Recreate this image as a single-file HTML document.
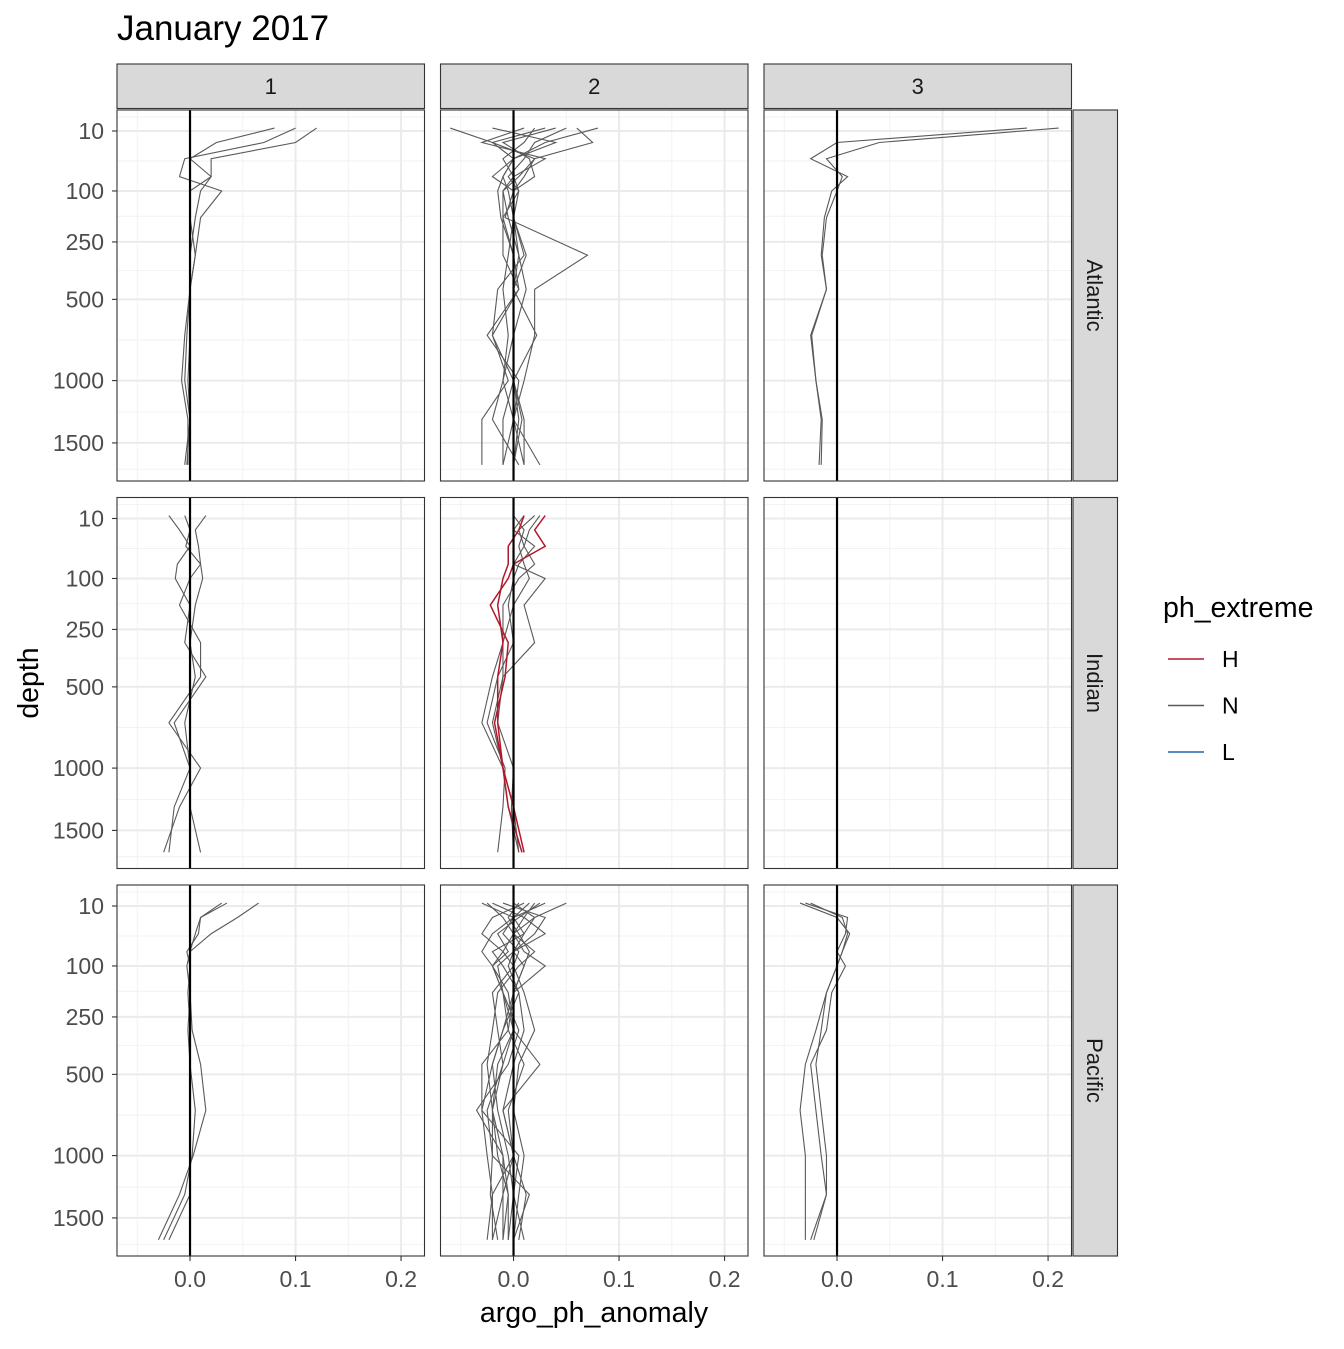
<!DOCTYPE html>
<html><head><meta charset="utf-8"><style>
body{margin:0;background:#fff}
svg text{font-family:"Liberation Sans",sans-serif}
</style></head><body>
<svg id="chart" width="1344" height="1344" xmlns="http://www.w3.org/2000/svg"></svg>
<script>
const depths=[8,20,40,70,100,170,300,450,700,1000,1300,1700];
const xTicks=[0,0.1,0.2];
const xTickLabels=["0.0","0.1","0.2"];
const yTicks=[10,100,250,500,1000,1500];
const colLabels=["1","2","3"];
const rowLabels=["Atlantic","Indian","Pacific"];
const legendLabels=["H","N","L"];
const atl1=[[0.10,0.07,-0.005,-0.01,0.03,0.01,0.005,0.0,-0.003,-0.005,0.0,-0.003],[0.12,0.1,0.02,0.02,0.01,0.005,0.0,0.0,-0.005,-0.008,-0.002,-0.002],[0.08,0.025,0.0,0.02,0.0,0.0,0.005,0.0,0.0,-0.002,0.0,-0.005]];
const atl2=[[0.03,-0.02,0.0,-0.01,-0.015,-0.012,0.0,0.005,-0.02,-0.005,-0.03,-0.03],[-0.06,-0.02,0.02,0.005,-0.01,-0.005,0.005,0.012,0.0,0.0,0.01,0.01],[0.08,0.03,0.0,-0.02,0.0,-0.008,0.07,0.02,0.02,0.01,0.0,0.025],[0.05,0.02,0.01,-0.005,0.005,0.0,0.01,-0.015,-0.02,0.0,-0.01,-0.01],[0.01,-0.03,0.03,0.0,-0.01,-0.01,0.0,0.0,0.0,-0.01,-0.02,0.005],[0.06,0.075,0.02,0.01,0.0,0.0,-0.005,-0.01,-0.005,-0.01,0.0,0.01],[-0.02,0.04,0.0,-0.01,-0.005,0.0,0.012,0.0,0.0,0.0,0.008,0.0],[0.02,0.01,-0.01,0.0,0.005,-0.01,-0.01,0.005,-0.025,0.005,0.0,-0.01],[0.04,-0.01,0.015,0.02,0.0,0.0,0.005,0.0,0.022,0.0,0.005,0.0]];
const atl3=[[0.18,0.0,-0.025,0.01,-0.005,-0.012,-0.015,-0.01,-0.025,-0.02,-0.015,-0.017],[0.21,0.04,-0.01,0.005,0.0,-0.01,-0.014,-0.01,-0.024,-0.02,-0.014,-0.015]];
const ind1=[[-0.02,-0.01,0.0,-0.012,-0.014,0.0,-0.005,0.015,-0.015,0.0,0.0,0.01],[0.015,0.005,0.008,0.01,0.0,-0.01,0.01,0.01,-0.02,0.01,-0.01,-0.025],[-0.005,0.0,-0.004,0.01,0.012,0.005,0.0,0.005,-0.005,0.0,-0.015,-0.02]];
const ind2=[[0.02,0.005,0.01,0.0,0.03,0.01,0.02,-0.01,-0.02,-0.01,0.0,0.005],[0.01,0.0,0.02,0.005,0.0,-0.005,0.0,-0.015,-0.025,-0.008,-0.01,-0.015],[0.025,0.015,0.01,0.02,0.005,-0.01,-0.01,-0.02,-0.03,-0.01,-0.005,0.005],[0.0,0.01,0.005,0.01,0.015,0.0,-0.01,-0.01,-0.015,0.0,-0.002,0.0]];
const ind2H=[[0.03,0.02,0.03,0.0,-0.005,-0.022,-0.005,-0.008,-0.018,-0.01,-0.005,0.008],[0.01,0.005,-0.005,-0.005,-0.01,-0.015,-0.01,-0.015,-0.015,-0.01,0.0,0.01]];
const pac1=[[0.035,0.01,0.005,0.0,0.0,-0.002,0.0,0.0,0.005,0.002,-0.005,-0.025],[0.065,0.045,0.02,0.0,-0.003,0.0,0.002,0.01,0.015,0.003,-0.01,-0.03],[0.03,0.01,0.008,-0.003,0.0,0.0,-0.002,0.0,0.0,0.0,0.0,-0.02]];
const pac2=[[0.05,0.02,0.0,-0.01,-0.02,-0.01,0.0,0.025,-0.01,0.0,-0.02,-0.02],[-0.03,0.0,-0.02,-0.03,-0.02,-0.01,0.005,-0.005,-0.035,-0.01,-0.01,-0.02],[0.02,0.01,0.03,0.0,-0.005,0.005,-0.01,-0.02,-0.03,0.005,0.0,0.01],[-0.025,-0.01,0.0,0.02,0.005,-0.015,-0.02,-0.025,-0.02,-0.015,-0.005,-0.005],[0.0,0.02,0.01,0.0,0.01,0.0,0.0,-0.01,-0.025,-0.02,0.015,0.0],[0.01,-0.02,-0.03,-0.01,0.0,-0.02,-0.015,-0.01,-0.02,-0.02,-0.022,-0.015],[0.03,0.0,0.01,-0.02,-0.01,0.005,0.01,0.0,-0.01,0.0,-0.01,-0.01],[-0.02,0.01,0.0,0.01,0.03,0.0,-0.01,-0.02,-0.015,-0.005,0.0,-0.005],[0.015,0.0,-0.01,0.005,0.0,0.01,0.02,0.005,0.0,0.01,0.005,0.0],[-0.01,0.03,0.02,0.0,-0.015,-0.01,-0.005,-0.03,-0.03,-0.025,-0.02,-0.025],[0.005,-0.005,0.005,0.015,0.01,0.0,-0.005,0.01,-0.005,0.0,0.012,0.005],[0.025,0.005,-0.015,-0.005,-0.02,-0.005,0.0,-0.015,-0.02,-0.01,-0.005,-0.01]];
const pac3=[[-0.035,0.0,0.012,0.005,0.0,-0.01,-0.02,-0.03,-0.035,-0.03,-0.03,-0.03],[-0.03,0.01,0.008,0.0,0.008,-0.005,-0.01,-0.025,-0.02,-0.015,-0.01,-0.025],[-0.025,0.005,0.01,0.005,0.0,-0.01,-0.015,-0.02,-0.015,-0.01,-0.01,-0.022]];
const panelsN=[[atl1,atl2,atl3],[ind1,ind2,[]],[pac1,pac2,pac3]];
const panelsH=[[[],[],[]],[[],ind2H,[]],[[],[],[]]];

const NS="http://www.w3.org/2000/svg";
const svg=document.getElementById('chart');
function mk(tag,attrs,parent){const e=document.createElementNS(NS,tag);for(const k in attrs)e.setAttribute(k,attrs[k]);(parent||svg).appendChild(e);return e;}
const colX=[117,440.5,764], pw=307.5;
const rowY=[110,497.5,885], ph=371;
const xmin=-0.0692, xmax=0.2222;
function sx(c,v){return colX[c]+(v-xmin)/(xmax-xmin)*pw;}
function sy(r,d){return rowY[r]+21+(Math.sqrt(d)-Math.sqrt(10))*8.77;}
const xMinor=[-0.05,0.05,0.15];
const yMinor=[2.5,43.3,166,364,729,1240,1741];

let t=mk('text',{x:117,y:40,'font-size':35,fill:'#000'});t.textContent="January 2017";


for(let r=0;r<3;r++)for(let c=0;c<3;c++){
  const g=mk('g',{});
  
  
  const x0=colX[c],y0=rowY[r];
  mk('rect',{x:x0,y:y0,width:pw,height:ph,fill:'#fff'},g);
  const cp='cp'+r+c;
  const cl=mk('clipPath',{id:cp},g);mk('rect',{x:x0,y:y0,width:pw,height:ph},cl);
  xMinor.forEach(v=>mk('line',{x1:sx(c,v),x2:sx(c,v),y1:y0,y2:y0+ph,stroke:'#f2f2f2','stroke-width':1},g));
  yMinor.forEach(d=>{const y=sy(r,d);if(y>y0&&y<y0+ph)mk('line',{x1:x0,x2:x0+pw,y1:y,y2:y,stroke:'#f2f2f2','stroke-width':1},g);});
  xTicks.forEach(v=>mk('line',{x1:sx(c,v),x2:sx(c,v),y1:y0,y2:y0+ph,stroke:'#ebebeb','stroke-width':2},g));
  yTicks.forEach(d=>mk('line',{x1:x0,x2:x0+pw,y1:sy(r,d),y2:sy(r,d),stroke:'#ebebeb','stroke-width':2},g));
  const lg=mk('g',{'clip-path':'url(#'+cp+')'},g);
  panelsN[r][c].forEach((p,i)=>{
    const pl=mk('polyline',{points:p.map((v,k)=>sx(c,v)+','+sy(r,depths[k])).join(' '),fill:'none',stroke:'#595959','stroke-width':1.1},lg);
    
  });
  panelsH[r][c].forEach((p,i)=>{
    const pl=mk('polyline',{points:p.map((v,k)=>sx(c,v)+','+sy(r,depths[k])).join(' '),fill:'none',stroke:'#B2182B','stroke-width':1.5},lg);
    
  });
  mk('line',{x1:sx(c,0),x2:sx(c,0),y1:y0,y2:y0+ph,stroke:'#000','stroke-width':2.2},g);
  mk('rect',{x:x0,y:y0,width:pw,height:ph,fill:'none',stroke:'#333','stroke-width':1.1},g);
  if(c===0){
    yTicks.forEach(d=>{const y=sy(r,d);
      mk('line',{x1:x0-5,x2:x0,y1:y,y2:y,stroke:'#333','stroke-width':1.1});
      const tt=mk('text',{x:x0-13,y:y+8,'text-anchor':'end','font-size':23,fill:'#4d4d4d'});tt.textContent=d;
      });
  }
  if(r===2){
    xTicks.forEach((v,i)=>{const x=sx(c,v);
      mk('line',{x1:x,x2:x,y1:y0+ph,y2:y0+ph+5,stroke:'#333','stroke-width':1.1});
      const tt=mk('text',{x:x,y:y0+ph+31,'text-anchor':'middle','font-size':23,fill:'#4d4d4d'});tt.textContent=xTickLabels[i];
      });
  }
}
colLabels.forEach((l,c)=>{
  mk('rect',{x:colX[c],y:64,width:pw,height:44.5,fill:'#d9d9d9',stroke:'#333','stroke-width':1.1});
  const tt=mk('text',{x:colX[c]+pw/2,y:94,'text-anchor':'middle','font-size':22,fill:'#1a1a1a'});tt.textContent=l;
  
});
rowLabels.forEach((l,r)=>{
  mk('rect',{x:1073,y:rowY[r],width:44.5,height:ph,fill:'#d9d9d9',stroke:'#333','stroke-width':1.1});
  const cy=rowY[r]+ph/2;
  const tt=mk('text',{x:1087,y:cy,'text-anchor':'middle','font-size':22,fill:'#1a1a1a',transform:'rotate(90 1087 '+cy+')'});tt.textContent=l;
  
});
let xt=mk('text',{x:594,y:1322,'text-anchor':'middle','font-size':28.5,fill:'#000'});xt.textContent="argo_ph_anomaly";

let yt=mk('text',{x:38,y:683,'text-anchor':'middle','font-size':28.5,fill:'#000',transform:'rotate(-90 38 683)'});yt.textContent="depth";

let lt=mk('text',{x:1163,y:617,'font-size':28.5,fill:'#000'});lt.textContent="ph_extreme";

const legCols=['#B2182B','#595959','#2166AC'];
legendLabels.forEach((l,i)=>{
  const y=659+i*46.5;
  const lg=mk('g',{});
  
  mk('line',{x1:1168,x2:1204,y1:y,y2:y,stroke:legCols[i],'stroke-width':1.5},lg);
  const tt=mk('text',{x:1222,y:y+8,'font-size':23,fill:'#000'},lg);tt.textContent=l;
});
</script>
</body></html>
